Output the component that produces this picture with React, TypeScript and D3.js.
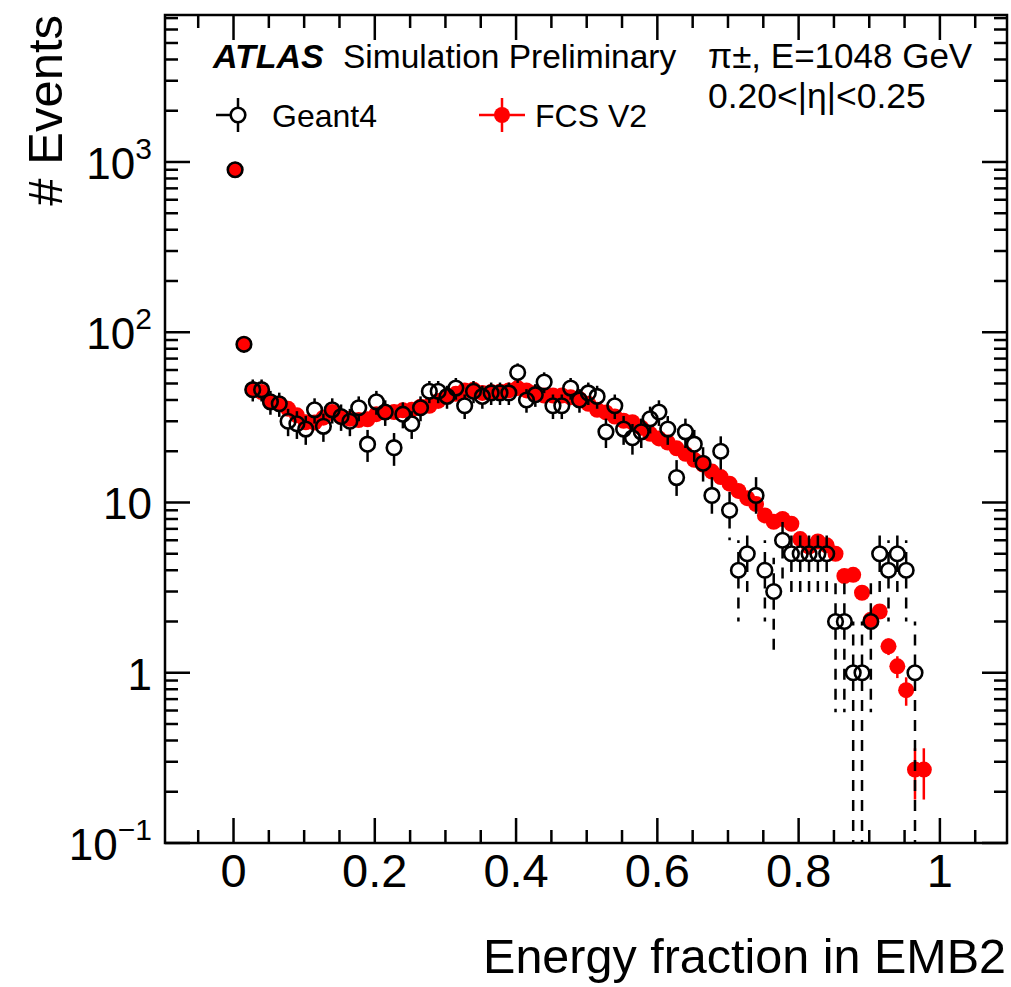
import React from 'react';
import * as d3 from 'd3';

const W = 1011;
const H = 987;
const M = { left: 165, right: 1007, top: 15, bottom: 843 };

// histogram binning (bin edges start slightly below 0)
const binLow = -0.004;
const binWidth = 0.0125;

// FCS V2 (red, filled)
const fcsValues = [
  900, 85, 46, 44.5, 39, 38, 35.5, 32.5, 29.6, 29.5,
  31.5, 34, 31.8, 31, 30.5, 30.8, 33, 33.8, 34, 34.8,
  35, 36.5, 37, 39.5, 42, 43.5, 45.5, 46, 44, 44.5,
  44.7, 45.5, 47, 45.5, 44, 42.5, 42.5, 42.5, 41.5, 40.5,
  38, 35, 33.8, 32, 30.2, 29.6, 27.5, 25.3, 23.8, 22.5,
  20.8, 19.3, 17.8, 16.7, 15.2, 14.1, 12.9, 11.7, 10.6, 9.8,
  8.4, 7.7, 8.0, 7.5, 6.1, 5.5, 5.9, 5.6, 5.0, 3.7,
  3.76, 2.95, 2.05, 2.29, 1.43, 1.09, 0.79, 0.27, 0.27,
];
const fcsErrors = [
  12, 3.5, 1.6, 1.6, 1.5, 1.5, 1.4, 1.4, 1.3, 1.3,
  1.3, 1.4, 1.3, 1.3, 1.3, 1.3, 1.4, 1.4, 1.4, 1.4,
  1.4, 1.4, 1.4, 1.5, 1.5, 1.5, 1.6, 1.6, 1.5, 1.5,
  1.5, 1.6, 1.6, 1.6, 1.5, 1.5, 1.5, 1.5, 1.5, 1.5,
  1.4, 1.4, 1.3, 1.3, 1.3, 1.2, 1.2, 1.1, 1.1, 1.0,
  1.0, 0.9, 0.9, 0.8, 0.8, 0.7, 0.7, 0.6, 0.6, 0.5,
  0.5, 0.45, 0.45, 0.45, 0.4, 0.35, 0.35, 0.35, 0.3, 0.22,
  0.22, 0.2, 0.2, 0.2, 0.16, 0.16, 0.15, 0.09, 0.09,
];

// Geant4 (black, open circles) - event counts
const geantValues = [
  900, 85, 46, 46, 39, 38, 30, 29, 27, 35,
  28, 35, 32, 30, 36, 22, 39, 34, 21, 33,
  29, 36, 45, 45, 42, 47, 37, 45, 42, 44,
  44, 44, 58, 40, 43, 51, 37, 37, 47, 40,
  44, 42, 26, 37, 27, 24, 26, 31, 34, 27,
  14, 26, 22, 17, 11, 20, 9, 4, 5, 11,
  4, 3, 6, 5, 5, 5, 5, 5, 2, 2,
  1, 1, 2, 5, 4, 5, 4, 1,
];

const xMajorTicks = [0, 0.2, 0.4, 0.6, 0.8, 1];
const xTickLabels = ['0', '0.2', '0.4', '0.6', '0.8', '1'];
const yDecades = [0.1, 1, 10, 100, 1000];
const yTickBase = ['10', '1', '10', '10', '10'];
const yTickSup = ['\u22121', '', '', '2', '3'];

const FONT = '"Liberation Sans", Arial, Helvetica, sans-serif';

export default function App() {
  const x = d3.scaleLinear().domain([-0.097, 1.095]).range([M.left, M.right]);
  const y = d3.scaleLog().domain([0.1, 7300]).range([M.bottom, M.top]);

  const center = (i: number) => binLow + (i + 0.5) * binWidth;

  // ticks
  const xMinor: number[] = [];
  for (let i = -1; i <= 21; i++) xMinor.push(+(i * 0.05).toFixed(3));
  const yMinor: { v: number; major: boolean }[] = [];
  yDecades.forEach((d) => {
    for (let m = 1; m <= 9; m++) {
      const v = d * m;
      if (v <= 7300) yMinor.push({ v, major: m === 1 });
    }
  });

  const tickW = 2.5;
  const majorLen = 25;
  const minorLen = 13;

  const rRed = 8;
  const rBlk = 7.3;

  return (
    <svg
      width={W}
      height={H}
      style={{ position: 'absolute', left: 0, top: 0, background: '#fff' }}
      fontFamily={FONT}
    >
      <defs>
        <clipPath id="plotclip">
          <rect x={M.left} y={M.top} width={M.right - M.left} height={M.bottom - M.top} />
        </clipPath>
      </defs>
      <rect x={0} y={0} width={W} height={H} fill="#fff" />

      {/* x ticks bottom & top */}
      {xMinor.map((v, i) => {
        const major = Math.abs(v / 0.2 - Math.round(v / 0.2)) < 1e-6;
        const len = major ? majorLen : minorLen;
        const px = x(v);
        return (
          <g key={'xt' + i} stroke="#000" strokeWidth={tickW}>
            <line x1={px} x2={px} y1={M.bottom} y2={M.bottom - len} />
            <line x1={px} x2={px} y1={M.top} y2={M.top + len} />
          </g>
        );
      })}
      {/* y ticks left & right */}
      {yMinor.map((t, i) => {
        const len = t.major ? majorLen : minorLen;
        const py = y(t.v);
        return (
          <g key={'yt' + i} stroke="#000" strokeWidth={tickW}>
            <line x1={M.left} x2={M.left + len} y1={py} y2={py} />
            <line x1={M.right} x2={M.right - len} y1={py} y2={py} />
          </g>
        );
      })}

      {/* x tick labels */}
      {xMajorTicks.map((v, i) => (
        <text key={'xl' + i} x={x(v)} y={887} fontSize={47} textAnchor="middle" fill="#000">
          {xTickLabels[i]}
        </text>
      ))}
      {/* y tick labels */}
      {yDecades.map((d, i) => (
        <text key={'yl' + i} x={152} y={y(d) + 17} fontSize={44} textAnchor="end" fill="#000">
          {yTickBase[i]}
          {yTickSup[i] !== '' && (
            <tspan fontSize={30} dy={-20}>
              {yTickSup[i]}
            </tspan>
          )}
        </text>
      ))}

      {/* axis titles */}
      <text x={1006} y={973} fontSize={48.5} textAnchor="end" fill="#000">
        Energy fraction in EMB2
      </text>
      <text transform="translate(62,15) rotate(-90)" fontSize={49} textAnchor="end" fill="#000">
        # Events
      </text>

      {/* data */}
      <g clipPath="url(#plotclip)">
        {/* FCS V2 red */}
        {fcsValues.map((v, i) => {
          const cx = x(center(i));
          const e = fcsErrors[i];
          const lo = Math.max(v - e, 0.05);
          return (
            <g key={'r' + i}>
              <line x1={cx} x2={cx} y1={y(v + e)} y2={y(lo)} stroke="#ff0000" strokeWidth={2.5} />
              <line
                x1={x(center(i) - binWidth / 2)}
                x2={x(center(i) + binWidth / 2)}
                y1={y(v)}
                y2={y(v)}
                stroke="#ff0000"
                strokeWidth={2.5}
              />
              <circle cx={cx} cy={y(v)} r={rRed} fill="#ff0000" />
            </g>
          );
        })}
        {/* Geant4 black */}
        {geantValues.map((v, i) => {
          const cx = x(center(i));
          const cy = y(v);
          const e = Math.sqrt(v);
          const top = y(v + e);
          const lo = v - e;
          const bot = lo > 0.01 ? y(lo) : M.bottom + 5;
          return (
            <g key={'b' + i} stroke="#000" strokeWidth={2.5} fill="none">
              {top < cy - rBlk && (
                <line x1={cx} x2={cx} y1={cy - rBlk} y2={top} strokeDasharray="11 9" />
              )}
              {bot > cy + rBlk && (
                <line x1={cx} x2={cx} y1={cy + rBlk} y2={bot} strokeDasharray="11 9" />
              )}
              <circle cx={cx} cy={cy} r={rBlk} strokeWidth={2.6} />
            </g>
          );
        })}
      </g>

      {/* frame */}
      <rect
        x={M.left}
        y={M.top}
        width={M.right - M.left}
        height={M.bottom - M.top}
        fill="none"
        stroke="#000"
        strokeWidth={2.5}
      />

      {/* labels */}
      <text x={213} y={68} fontSize={34} fontWeight="bold" fontStyle="italic" fill="#000">
        ATLAS
      </text>
      <text x={343} y={68} fontSize={33.5} fill="#000">
        Simulation Preliminary
      </text>
      <text x={708} y={68} fontSize={35} fill="#000">
        {'\u03c0\u00b1, E=1048 GeV'}
      </text>
      <text x={708} y={108} fontSize={35.5} fill="#000">
        {'0.20<|\u03b7|<0.25'}
      </text>

      {/* legend */}
      <g stroke="#000" strokeWidth={2.5} fill="none">
        <line x1={216} x2={230.5} y1={115} y2={115} />
        <line x1={238} x2={238} y1={98} y2={107.5} />
        <line x1={238} x2={238} y1={122.5} y2={132} />
        <circle cx={238} cy={115} r={rBlk} strokeWidth={2.6} />
      </g>
      <text x={272} y={127} fontSize={32} fill="#000">
        Geant4
      </text>
      <g stroke="#ff0000" strokeWidth={2.5}>
        <line x1={479} x2={525} y1={115} y2={115} />
        <line x1={502} x2={502} y1={98} y2={132} />
        <circle cx={502} cy={115} r={rRed} fill="#ff0000" stroke="none" />
      </g>
      <text x={535} y={127} fontSize={32} fill="#000">
        FCS V2
      </text>
    </svg>
  );
}
